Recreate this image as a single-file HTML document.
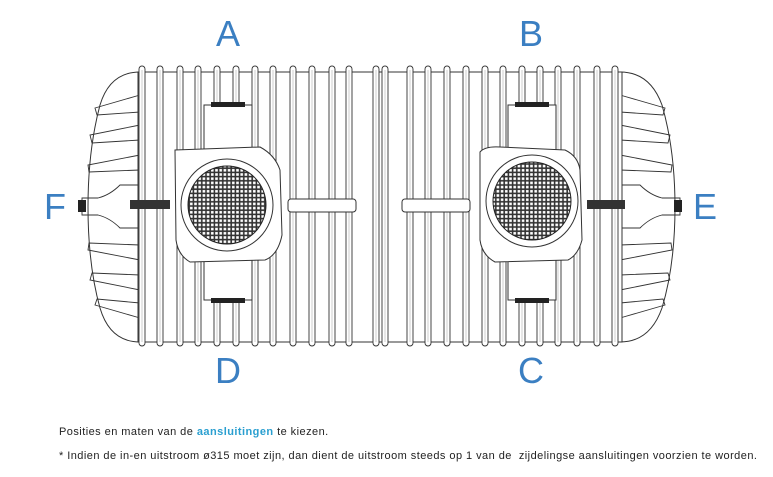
<!DOCTYPE html>
<html><head><meta charset="utf-8"><style>
html,body{margin:0;padding:0;background:#fff;width:773px;height:477px;overflow:hidden}
.t{position:absolute;font-family:"Liberation Sans",sans-serif;font-size:11px;letter-spacing:0.45px;color:#222;left:59px;white-space:nowrap}
</style></head><body>
<svg width="773" height="477" style="position:absolute;left:0;top:0" xmlns="http://www.w3.org/2000/svg">
<defs>
<pattern id="g" width="4.2" height="4.2" patternUnits="userSpaceOnUse"><rect width="4.2" height="4.2" fill="#333"/><rect x="1" y="1" width="2.6" height="2.6" fill="#fff"/></pattern>
<g id="rib"><rect x="-3" y="66" width="6" height="280" rx="3" fill="#fff" stroke="#333" stroke-width="0.9"/><line x1="0" y1="70" x2="0" y2="342" stroke="#999" stroke-width="0.5"/></g>
</defs>
<g font-family="Liberation Sans,sans-serif" font-size="36" fill="#3b7fc2" text-anchor="middle">
<text x="228" y="46">A</text><text x="531" y="46">B</text>
<text x="228" y="383">D</text><text x="531" y="383">C</text>
<text x="55" y="219">F</text><text x="705" y="219">E</text>
</g>
<path d="M140 72 Q110 72 100 105 Q88 150 88 207 Q88 265 100 308 Q110 342 140 342 Z" fill="#fff" stroke="#333" stroke-width="1"/>
<path d="M620 72 Q650 72 662 105 Q675 150 675 207 Q675 265 662 308 Q650 342 620 342 Z" fill="#fff" stroke="#333" stroke-width="1"/>
<g fill="none" stroke="#333" stroke-width="0.9">
<path d="M140 95 L95 108 L97 115 L140 112"/><path d="M140 125 L90 135 L92 143 L140 140"/><path d="M140 155 L88 165 L89 172 L140 170"/>
<path d="M140 260 L88 250 L89 243 L140 245"/><path d="M140 290 L90 280 L92 273 L140 275"/><path d="M140 318 L95 305 L97 299 L140 303"/>
<path d="M620 95 L665 108 L663 115 L620 112"/><path d="M620 125 L670 135 L668 143 L620 140"/><path d="M620 155 L672 165 L671 172 L620 170"/>
<path d="M620 260 L672 250 L671 243 L620 245"/><path d="M620 290 L670 280 L668 273 L620 275"/><path d="M620 318 L665 305 L663 299 L620 303"/>
<path d="M140 185 L120 185 Q110 195 98 198 L82 198 L82 215 L98 215 Q110 218 120 228 L140 228"/>
<path d="M620 185 L640 185 Q650 195 662 198 L680 198 L680 215 L662 215 Q650 218 640 228 L620 228"/>
</g>
<rect x="78" y="200" width="8" height="12" fill="#222"/><rect x="674" y="200" width="8" height="12" fill="#222"/>
<rect x="138" y="72" width="484" height="270" fill="#fff" stroke="#333" stroke-width="1"/>
<use href="#rib" x="142"/><use href="#rib" x="160"/><use href="#rib" x="180"/><use href="#rib" x="198"/><use href="#rib" x="217"/><use href="#rib" x="236"/><use href="#rib" x="255"/><use href="#rib" x="273"/><use href="#rib" x="293"/><use href="#rib" x="312"/><use href="#rib" x="332"/><use href="#rib" x="349"/>
<use href="#rib" x="376"/><use href="#rib" x="385"/>
<use href="#rib" x="410"/><use href="#rib" x="428"/><use href="#rib" x="447"/><use href="#rib" x="466"/><use href="#rib" x="485"/><use href="#rib" x="503"/><use href="#rib" x="522"/><use href="#rib" x="540"/><use href="#rib" x="558"/><use href="#rib" x="577"/><use href="#rib" x="597"/><use href="#rib" x="615"/>
<rect x="288" y="199" width="68" height="13" rx="3" fill="#fff" stroke="#333"/>
<rect x="402" y="199" width="68" height="13" rx="3" fill="#fff" stroke="#333"/>
<rect x="204" y="105" width="48" height="50" fill="#fff" stroke="#333"/><rect x="211" y="102" width="34" height="5" fill="#222"/>
<rect x="204" y="255" width="48" height="45" fill="#fff" stroke="#333"/><rect x="211" y="298" width="34" height="5" fill="#222"/>
<path d="M175 150 L260 147 Q275 155 280 170 L282 235 Q278 255 265 260 L190 262 Q178 255 176 240 Z" fill="#fff" stroke="#333"/>
<rect x="130" y="200" width="40" height="9" fill="#333"/>
<circle cx="227" cy="205" r="46" fill="#fff" stroke="#333"/>
<circle cx="227" cy="205" r="39" fill="url(#g)" stroke="#222"/>
<rect x="508" y="105" width="48" height="50" fill="#fff" stroke="#333"/><rect x="515" y="102" width="34" height="5" fill="#222"/>
<rect x="508" y="255" width="48" height="45" fill="#fff" stroke="#333"/><rect x="515" y="298" width="34" height="5" fill="#222"/>
<path d="M480 152 Q485 146 500 147 L565 150 Q578 156 580 170 L582 240 Q578 255 568 260 L495 262 Q482 255 480 240 Z" fill="#fff" stroke="#333"/>
<rect x="587" y="200" width="38" height="9" fill="#333"/>
<circle cx="532" cy="201" r="46" fill="#fff" stroke="#333"/>
<circle cx="532" cy="201" r="39" fill="url(#g)" stroke="#222"/>
</svg>
<div class="t" style="top:426px">Posities en maten van de <b style="color:#2a9fd0;font-weight:bold">aansluitingen</b> te kiezen.</div>
<div class="t" style="top:450px">* Indien de in-en uitstroom ø315 moet zijn, dan dient de uitstroom steeds op 1 van de &nbsp;zijdelingse aansluitingen voorzien te worden.</div>
</body></html>
